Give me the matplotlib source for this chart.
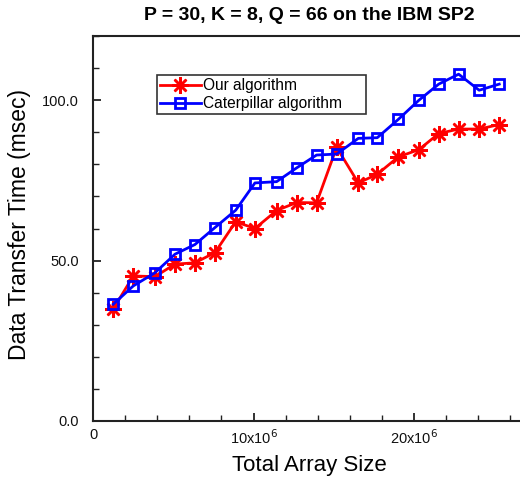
import matplotlib
matplotlib.use("Agg")
import matplotlib.pyplot as plt
from matplotlib.ticker import FixedLocator, MultipleLocator

plt.rcParams['font.family'] = ['Liberation Sans', 'DejaVu Sans']

# Data (x in units of 1e6 elements)
array_size = [1.26, 2.51, 3.86, 5.11, 6.35, 7.60, 8.89, 10.09, 11.44, 12.69,
              13.93, 15.18, 16.53, 17.71, 19.02, 20.31, 21.54, 22.78, 24.06, 25.31]
our_alg = [34.9, 45.2, 45.0, 48.9, 49.3, 52.5, 62.1, 60.0, 65.6, 68.1,
           68.0, 85.3, 74.2, 76.9, 82.3, 84.6, 89.6, 91.0, 91.0, 92.4]
caterpillar = [36.4, 42.1, 46.2, 52.0, 55.0, 60.3, 65.7, 74.2, 74.6, 78.9,
               82.9, 83.2, 88.1, 88.3, 94.0, 100.0, 105.0, 108.1, 103.1, 105.0]

x_tick_vals = [0, 10, 20]
x_tick_labels = ['0', r'10x10$^6$', r'20x10$^6$']
y_tick_vals = [0, 50, 100]
y_tick_labels = ['0.0', '50.0', '100.0']

W, H = 520, 483
fig = plt.figure(figsize=(W / 100, H / 100), dpi=100)
ax = fig.add_axes([93 / W, (H - 421) / H, (522 - 93) / W, (421 - 36) / H])

ax.plot(array_size, our_alg, color='#ff0000', lw=2, marker=(8, 2, 0),
        markersize=12, mew=1.8, label='Our algorithm', zorder=3)
ax.plot(array_size, caterpillar, color='#0000ff', lw=2, marker='s',
        markersize=7, mew=2, fillstyle='none', label='Caterpillar algorithm', zorder=4)

ax.set_xlim(0, (522 - 93) / 16.05)
ax.set_ylim(0, 120)
ax.xaxis.set_major_locator(FixedLocator(x_tick_vals))
ax.set_xticklabels(x_tick_labels)
ax.xaxis.set_minor_locator(MultipleLocator(2))
ax.yaxis.set_major_locator(FixedLocator(y_tick_vals))
ax.set_yticklabels(y_tick_labels)
ax.yaxis.set_minor_locator(MultipleLocator(10))
ax.tick_params(which='both', direction='in', labelsize=10.5, colors='#222222',
               labelcolor='#111111', top=False, right=False)
ax.tick_params(which='major', length=6, width=1.3)
ax.tick_params(which='minor', length=4, width=1.0)
ax.tick_params(axis='x', which='both', pad=5)
ax.tick_params(axis='y', which='both', pad=10)

for s in ax.spines.values():
    s.set_linewidth(1.5)
    s.set_color('#222222')

fig.text(309 / W, 1 - 466 / H, 'Total Array Size', fontsize=16,
         ha='center', va='center')
fig.text(20 / W, 1 - 225 / H, 'Data Transfer Time (msec)', fontsize=16.5,
         ha='center', va='center', rotation=90)
fig.text(309 / W, 1 - 15 / H, 'P = 30, K = 8, Q = 66 on the IBM SP2',
         ha='center', va='center', fontsize=14, fontweight='bold')

aw = 522 - 93
ah = 421 - 36
leg = ax.legend(loc='upper left',
                bbox_to_anchor=((157 - 93) / aw, (421 - 75) / ah, (366 - 157) / aw, 0.0),
                mode='expand',
                fontsize=11.2, frameon=True, fancybox=False, borderpad=0.2,
                handlelength=2.6, handletextpad=0.15, labelspacing=0.2,
                borderaxespad=0)
leg.get_frame().set_edgecolor('black')
leg.get_frame().set_linewidth(1.2)

fig.savefig('out.png', dpi=100)
